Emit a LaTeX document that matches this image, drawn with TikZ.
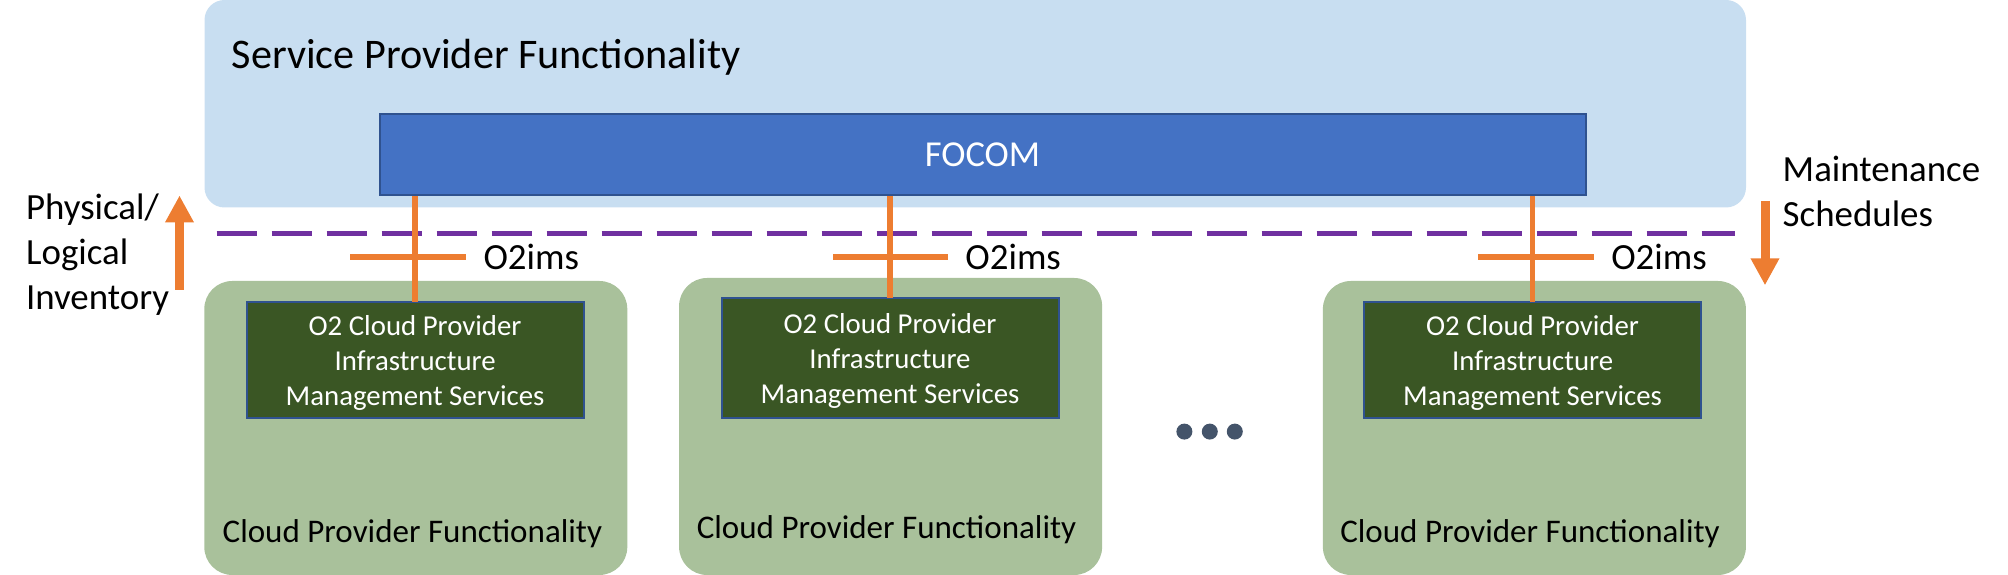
\documentclass[tikz,border=0pt]{standalone}
\usepackage{fontspec}
\setmainfont{Carlito}
\usetikzlibrary{arrows.meta}
\definecolor{spblue}{RGB}{200,222,241}
\definecolor{focomblue}{HTML}{4472C4}
\definecolor{focomedge}{HTML}{2F528F}
\definecolor{cpgreen}{RGB}{169,193,155}
\definecolor{imsgreen}{RGB}{58,86,36}
\definecolor{o2orange}{HTML}{ED7D31}
\definecolor{splitpurple}{HTML}{7030A0}
\definecolor{dotgrey}{HTML}{44546A}
\tikzset{
	cpbox/.style={fill=cpgreen, rounded corners=2.8mm, minimum width=4.23cm, inner sep=0pt, outer sep=0pt},
	imsbox/.style={fill=imsgreen, draw=focomedge, line width=0.2mm, minimum width=3.37cm, align=center, text=white, font=\fontsize{8.2}{9.96}\selectfont, text depth=0pt, inner sep=0pt, outer sep=0pt},
	ifline/.style={draw=o2orange, line width=0.55mm},
	sidetext/.style={font=\fontsize{10.5}{12.8}\selectfont, inner sep=0pt, align=left, anchor=west},
	cptext/.style={font=\fontsize{9.4}{11}\selectfont, inner sep=0pt, anchor=base},
	o2text/.style={font=\fontsize{10.5}{12}\selectfont, inner sep=0pt, anchor=west},
	flowarrow/.style={draw=o2orange, line width=0.9mm, -{Triangle[width=2.7mm,length=2.7mm]}},
}
\begin{document}
\begin{tikzpicture}
			%%%%% START %%%%%
			\useasboundingbox (0, 0) rectangle (20.08, 5.75);
			
			% service provider side
			\node[fill=spblue, rounded corners=2mm, minimum width=15.415cm, minimum height=2.075cm, inner sep=0pt] (sp) at (9.7525, 4.7125) {};
			\node[font=\fontsize{12}{14}\selectfont, inner sep=0pt, anchor=base west] (sptext) at (2.31, 5.06) {Service Provider Functionality};
			\node[fill=focomblue, draw=focomedge, line width=0.2mm, minimum width=12.06cm, minimum height=0.813cm, inner sep=0pt, text=white, font=\fontsize{10.4}{12}\selectfont] (focom) at (9.825, 4.2065) {FOCOM};
			
			% cloud provider side
			\node[cpbox, minimum height=2.94cm] (cp1) at (4.158, 1.47) {};
			\node[cpbox, minimum height=2.97cm] (cp2) at (8.906, 1.485) {};
			\node[cpbox, minimum height=2.94cm] (cp3) at (15.344, 1.47) {};
			
			\node[imsbox, minimum height=1.164cm] (ims1) at (4.151, 2.148) {O2 Cloud Provider\\Infrastructure\\Management Services};
			\node[imsbox, minimum height=1.199cm] (ims2) at (8.90, 2.1655) {O2 Cloud Provider\\Infrastructure\\Management Services};
			\node[imsbox, minimum height=1.164cm] (ims3) at (15.326, 2.148) {O2 Cloud Provider\\Infrastructure\\Management Services};
			
			\node[cptext] (cptext1) at (4.124, 0.327) {Cloud Provider Functionality};
			\node[cptext] (cptext2) at (8.865, 0.367) {Cloud Provider Functionality};
			\node[cptext] (cptext3) at (15.30, 0.327) {Cloud Provider Functionality};
			
			\fill[dotgrey] (11.844, 1.434) circle (0.08);
			\fill[dotgrey] (12.098, 1.434) circle (0.08);
			\fill[dotgrey] (12.348, 1.434) circle (0.08);
			
			% split between the two sides
			\draw[splitpurple, line width=0.5mm, dash pattern=on 4mm off 1.5mm] (2.167, 3.415) -- (17.35, 3.415);
			
			% O2ims interfaces
			\draw[ifline] (ims1.north) -- (ims1.north |- focom.south);
			\draw[ifline] (ims2.north) -- (ims2.north |- focom.south);
			\draw[ifline] (ims3.north) -- (ims3.north |- focom.south);
			
			\coordinate (tick1) at (ims1.north |- 0, 3.18);
			\coordinate (tick2) at (ims2.north |- 0, 3.18);
			\coordinate (tick3) at (ims3.north |- 0, 3.18);
			\draw[ifline] ([xshift=-6.5mm]tick1) -- ([xshift=5.07mm]tick1);
			\draw[ifline] ([xshift=-5.7mm]tick2) -- ([xshift=5.8mm]tick2);
			\draw[ifline] ([xshift=-5.45mm]tick3) -- ([xshift=6.1mm]tick3);
			\node[o2text] (o2ims1) at ([xshift=6.77mm]tick1) {O2ims};
			\node[o2text] (o2ims2) at ([xshift=7.47mm]tick2) {O2ims};
			\node[o2text] (o2ims3) at ([xshift=7.8mm]tick3) {O2ims};
			
			% flows
			\node[sidetext] (inv) at (0.254, 3.20) {Physical/\\Logical\\Inventory};
			\coordinate (inv0) at (1.795, 2.853);
			\coordinate (inv1) at (1.795, 3.795);
			\draw[flowarrow] (inv0) -- (inv1);
			
			\node[sidetext] (maint) at (17.82, 3.835) {Maintenance\\Schedules};
			\coordinate (maint0) at (17.65, 3.74);
			\coordinate (maint1) at (17.65, 2.897);
			\draw[flowarrow] (maint0) -- (maint1);
			
			%%%%% END %%%%%
		\end{tikzpicture}
\end{document}
